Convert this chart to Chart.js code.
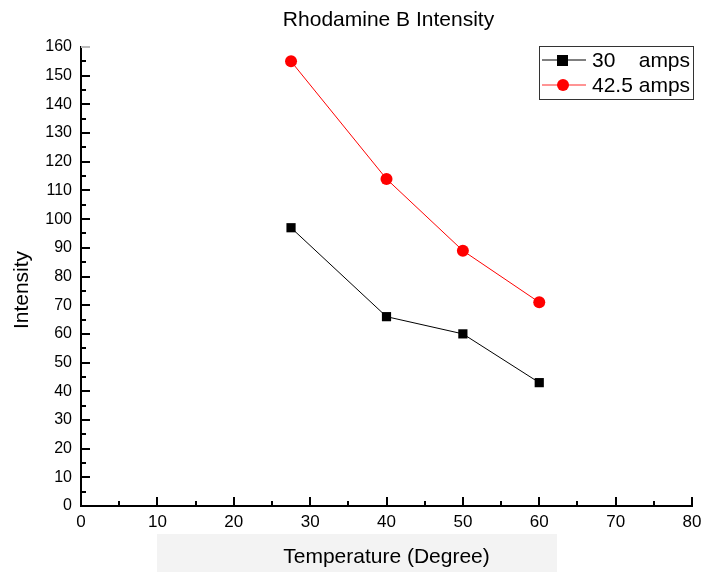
<!DOCTYPE html>
<html>
<head>
<meta charset="utf-8">
<script src="https://cdn.jsdelivr.net/npm/chart.js@4"></script>
<style>
  html, body { margin: 0; padding: 0; background: #fff; }
  #wrap { width: 708px; height: 572px; }
</style>
</head>
<body>
<div id="wrap"><canvas id="chart" width="708" height="572"></canvas></div>
<script>
// Temperature (Degree) vs. intensity for two currents
const temperatures = [27.5, 40, 50, 60];
const amps30 = [97, 66, 60, 43];
const amps425 = [155, 114, 89, 71];
const seriesLabels = ['30    amps', '42.5 amps'];
const xTicks = [0, 10, 20, 30, 40, 50, 60, 70, 80];
const yTicks = [0, 10, 20, 30, 40, 50, 60, 70, 80, 90, 100, 110, 120, 130, 140, 150, 160];
const chartTitle = 'Rhodamine B Intensity';
const yTitle = 'Intensity';

const FONT = 'Liberation Sans, Arial, sans-serif';

// light strip behind the x axis title
const bandPlugin = {
    id: 'band',
    beforeDraw(chart) {
        const ctx = chart.ctx;
        ctx.save();
        ctx.fillStyle = '#f3f3f3';
        ctx.fillRect(157, 534, 400, 38);
        ctx.restore();
    }
};

// title over the plot area and the rotated y title
const titlesPlugin = {
    id: 'titles',
    afterDraw(chart) {
        const ctx = chart.ctx;
        const area = chart.chartArea;
        ctx.save();
        ctx.fillStyle = '#000';
        ctx.textAlign = 'center';
        ctx.textBaseline = 'middle';
        ctx.font = '21px ' + FONT;
        ctx.fillText(chartTitle, (area.left + area.right) / 2 + 2, 20);

        ctx.translate(22, 290);
        ctx.rotate(-Math.PI / 2);
        ctx.fillText(yTitle, 0, 0);
        ctx.restore();
    }
};

// inward major/minor ticks like an Origin plot
const ticksPlugin = {
    id: 'innerTicks',
    afterDraw(chart) {
        const ctx = chart.ctx;
        const x = chart.scales.x, y = chart.scales.y;
        const left = chart.chartArea.left, bottom = chart.chartArea.bottom;
        ctx.save();
        ctx.strokeStyle = '#000';
        ctx.lineWidth = 2;
        for (let v = 0; v <= 80; v += 5) {
            const px = Math.round(x.getPixelForValue(v));
            const len = v % 10 === 0 ? 9 : 5;
            ctx.beginPath();
            ctx.moveTo(px, bottom);
            ctx.lineTo(px, bottom - len);
            ctx.stroke();
        }
        for (let v = 0; v <= 160; v += 5) {
            const py = Math.round(y.getPixelForValue(v));
            const len = v % 10 === 0 ? 9 : 5;
            ctx.strokeStyle = v === 160 ? '#bbb' : '#000';
            ctx.beginPath();
            ctx.moveTo(left, py);
            ctx.lineTo(left + len, py);
            ctx.stroke();
        }
        ctx.restore();
    }
};

// boxed legend in the upper right corner
const legendPlugin = {
    id: 'boxLegend',
    afterDraw(chart) {
        const ctx = chart.ctx;
        const bx = 539, by = 46, bw = 154, bh = 53;
        ctx.save();
        ctx.fillStyle = '#fff';
        ctx.fillRect(bx, by, bw, bh);
        ctx.strokeStyle = '#333';
        ctx.lineWidth = 1;
        ctx.strokeRect(bx + 0.5, by + 0.5, bw, bh);

        ctx.font = '21px ' + FONT;
        ctx.textBaseline = 'middle';
        ctx.textAlign = 'left';

        // first row: black square
        let ry = by + 14;
        ctx.strokeStyle = '#000';
        ctx.beginPath(); ctx.moveTo(bx + 3, ry); ctx.lineTo(bx + 47, ry); ctx.stroke();
        ctx.fillStyle = '#000';
        ctx.fillRect(bx + 18, ry - 5, 11, 11);
        ctx.fillText(seriesLabels[0], bx + 53, ry + 1);

        // second row: red circle
        ry = by + 39;
        ctx.strokeStyle = '#ff7070';
        ctx.lineWidth = 1.5;
        ctx.beginPath(); ctx.moveTo(bx + 3, ry); ctx.lineTo(bx + 47, ry); ctx.stroke();
        ctx.fillStyle = '#ff0000';
        ctx.beginPath(); ctx.arc(bx + 24, ry, 6, 0, Math.PI * 2); ctx.fill();
        ctx.fillStyle = '#000';
        ctx.fillText(seriesLabels[1], bx + 53, ry + 1);
        ctx.restore();
    }
};

const ctx = document.getElementById('chart').getContext('2d');
new Chart(ctx, {
    type: 'scatter',
    data: {
        datasets: [
            {
                label: seriesLabels[0],
                data: temperatures.map((t, i) => ({ x: t, y: amps30[i] })),
                showLine: true,
                borderColor: '#000',
                backgroundColor: '#000',
                borderWidth: 1,
                pointStyle: 'rect',
                pointRadius: 6.5,
                pointBorderWidth: 0
            },
            {
                label: seriesLabels[1],
                data: temperatures.map((t, i) => ({ x: t, y: amps425[i] })),
                showLine: true,
                borderColor: '#ff0000',
                backgroundColor: '#ff0000',
                borderWidth: 1,
                pointStyle: 'circle',
                pointRadius: 6,
                pointBorderWidth: 0
            }
        ]
    },
    options: {
        responsive: false,
        animation: false,
        events: [],
        layout: { padding: { left: 0, right: 16, top: 47, bottom: 0 } },
        plugins: {
            legend: { display: false },
            tooltip: { enabled: false },
            title: { display: false }
        },
        scales: {
            x: {
                type: 'linear',
                min: 0,
                max: 80,
                afterBuildTicks: s => { s.ticks = xTicks.map(v => ({ value: v })); },
                afterFit: s => { s.height = 66; },
                grid: { display: false, drawTicks: false },
                border: { display: true, color: '#000', width: 2 },
                ticks: {
                    color: '#000',
                    font: { family: FONT, size: 17 },
                    padding: 6,
                    maxRotation: 0
                },
                title: {
                    display: true,
                    text: 'Temperature (Degree)',
                    color: '#000',
                    font: { family: FONT, size: 21 },
                    padding: { top: 0, bottom: 2 }
                }
            },
            y: {
                type: 'linear',
                min: 0,
                max: 160,
                afterBuildTicks: s => { s.ticks = yTicks.map(v => ({ value: v })); },
                afterFit: s => { s.width = 81; },
                grid: { display: false, drawTicks: false },
                border: { display: true, color: '#000', width: 2 },
                ticks: {
                    color: '#000',
                    font: { family: FONT, size: 16 },
                    padding: 9
                }
            }
        }
    },
    plugins: [bandPlugin, ticksPlugin, legendPlugin, titlesPlugin]
});
</script>
</body>
</html>
